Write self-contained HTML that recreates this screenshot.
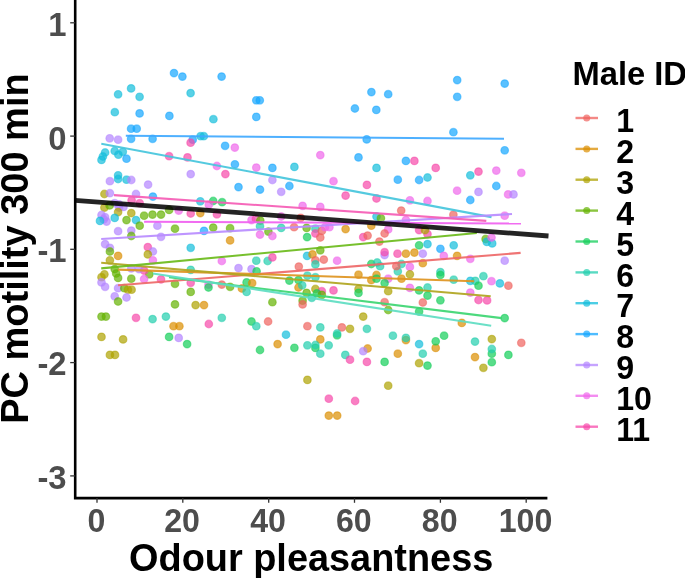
<!DOCTYPE html><html><head><meta charset="utf-8"><title>plot</title><style>html,body{margin:0;padding:0;background:#fff}svg{display:block}text{font-family:"Liberation Sans",sans-serif;font-weight:bold}</style></head><body>
<svg width="685" height="578" viewBox="0 0 685 578">
<rect width="685" height="578" fill="#fff"/>
<g fill-opacity="0.7" stroke-opacity="0.5" stroke-width="1.2">
<circle cx="174.0" cy="73.1" r="3.8" fill="#14A6FF" stroke="#14A6FF"/>
<circle cx="182.4" cy="76.6" r="3.8" fill="#14A6FF" stroke="#14A6FF"/>
<circle cx="131.1" cy="88.4" r="3.8" fill="#12BEDC" stroke="#12BEDC"/>
<circle cx="118.1" cy="94.3" r="3.8" fill="#12BEDC" stroke="#12BEDC"/>
<circle cx="139.6" cy="96.8" r="3.8" fill="#12BEDC" stroke="#12BEDC"/>
<circle cx="190.6" cy="93.1" r="3.8" fill="#12BEDC" stroke="#12BEDC"/>
<circle cx="114.8" cy="112.2" r="3.8" fill="#12BEDC" stroke="#12BEDC"/>
<circle cx="139.6" cy="113.4" r="3.8" fill="#14A6FF" stroke="#14A6FF"/>
<circle cx="169.4" cy="115.9" r="3.8" fill="#14A6FF" stroke="#14A6FF"/>
<circle cx="131.1" cy="128.7" r="3.8" fill="#14A6FF" stroke="#14A6FF"/>
<circle cx="136.7" cy="128.7" r="3.8" fill="#14A6FF" stroke="#14A6FF"/>
<circle cx="109.7" cy="138.3" r="3.8" fill="#B385FF" stroke="#B385FF"/>
<circle cx="118.1" cy="139.7" r="3.8" fill="#B385FF" stroke="#B385FF"/>
<circle cx="131.1" cy="138.8" r="3.8" fill="#14A6FF" stroke="#14A6FF"/>
<circle cx="152.6" cy="138.8" r="3.8" fill="#14A6FF" stroke="#14A6FF"/>
<circle cx="192.7" cy="139.7" r="3.8" fill="#14A6FF" stroke="#14A6FF"/>
<circle cx="190.6" cy="142.7" r="3.8" fill="#F748AA" stroke="#F748AA"/>
<circle cx="221.6" cy="76.6" r="3.8" fill="#14A6FF" stroke="#14A6FF"/>
<circle cx="256.3" cy="100.3" r="3.8" fill="#14A6FF" stroke="#14A6FF"/>
<circle cx="259.8" cy="100.3" r="3.8" fill="#14A6FF" stroke="#14A6FF"/>
<circle cx="213.4" cy="119.2" r="3.8" fill="#12BEDC" stroke="#12BEDC"/>
<circle cx="256.3" cy="116.9" r="3.8" fill="#14A6FF" stroke="#14A6FF"/>
<circle cx="200.6" cy="136.2" r="3.8" fill="#12BEDC" stroke="#12BEDC"/>
<circle cx="203.8" cy="136.2" r="3.8" fill="#12BEDC" stroke="#12BEDC"/>
<circle cx="225.1" cy="145.8" r="3.8" fill="#14A6FF" stroke="#14A6FF"/>
<circle cx="234.8" cy="147.6" r="3.8" fill="#EF67EB" stroke="#EF67EB"/>
<circle cx="371.4" cy="92.1" r="3.8" fill="#14A6FF" stroke="#14A6FF"/>
<circle cx="388.2" cy="94.2" r="3.8" fill="#14A6FF" stroke="#14A6FF"/>
<circle cx="354.9" cy="108.5" r="3.8" fill="#14A6FF" stroke="#14A6FF"/>
<circle cx="376.3" cy="109.9" r="3.8" fill="#14A6FF" stroke="#14A6FF"/>
<circle cx="366.7" cy="139.4" r="3.8" fill="#14A6FF" stroke="#14A6FF"/>
<circle cx="457.2" cy="80.1" r="3.8" fill="#14A6FF" stroke="#14A6FF"/>
<circle cx="504.7" cy="83.6" r="3.8" fill="#14A6FF" stroke="#14A6FF"/>
<circle cx="457.2" cy="96.8" r="3.8" fill="#14A6FF" stroke="#14A6FF"/>
<circle cx="453.4" cy="132.2" r="3.8" fill="#14A6FF" stroke="#14A6FF"/>
<circle cx="105.1" cy="152.5" r="3.8" fill="#12BEDC" stroke="#12BEDC"/>
<circle cx="102.9" cy="156.5" r="3.8" fill="#12BEDC" stroke="#12BEDC"/>
<circle cx="101.5" cy="159.9" r="3.8" fill="#12BEDC" stroke="#12BEDC"/>
<circle cx="114.7" cy="151.0" r="3.8" fill="#12BEDC" stroke="#12BEDC"/>
<circle cx="118.4" cy="154.7" r="3.8" fill="#12BEDC" stroke="#12BEDC"/>
<circle cx="122.8" cy="151.8" r="3.8" fill="#12BEDC" stroke="#12BEDC"/>
<circle cx="126.5" cy="158.7" r="3.8" fill="#14A6FF" stroke="#14A6FF"/>
<circle cx="169.1" cy="156.2" r="3.8" fill="#F748AA" stroke="#F748AA"/>
<circle cx="118.1" cy="175.3" r="3.8" fill="#12BEDC" stroke="#12BEDC"/>
<circle cx="118.1" cy="179.0" r="3.8" fill="#12BEDC" stroke="#12BEDC"/>
<circle cx="109.9" cy="181.2" r="3.8" fill="#B385FF" stroke="#B385FF"/>
<circle cx="126.5" cy="179.7" r="3.8" fill="#12BEDC" stroke="#12BEDC"/>
<circle cx="131.3" cy="180.0" r="3.8" fill="#B385FF" stroke="#B385FF"/>
<circle cx="148.1" cy="184.6" r="3.8" fill="#B385FF" stroke="#B385FF"/>
<circle cx="104.4" cy="194.0" r="3.8" fill="#AEA200" stroke="#AEA200"/>
<circle cx="109.9" cy="193.2" r="3.8" fill="#B385FF" stroke="#B385FF"/>
<circle cx="136.0" cy="194.0" r="3.8" fill="#B385FF" stroke="#B385FF"/>
<circle cx="152.9" cy="196.6" r="3.8" fill="#14A6FF" stroke="#14A6FF"/>
<circle cx="131.6" cy="200.3" r="3.8" fill="#F748AA" stroke="#F748AA"/>
<circle cx="139.7" cy="203.2" r="3.8" fill="#F748AA" stroke="#F748AA"/>
<circle cx="114.7" cy="203.2" r="3.8" fill="#B385FF" stroke="#B385FF"/>
<circle cx="119.1" cy="204.3" r="3.8" fill="#B385FF" stroke="#B385FF"/>
<circle cx="104.4" cy="207.6" r="3.8" fill="#AEA200" stroke="#AEA200"/>
<circle cx="109.6" cy="205.4" r="3.8" fill="#64B200" stroke="#64B200"/>
<circle cx="119.1" cy="207.6" r="3.8" fill="#B385FF" stroke="#B385FF"/>
<circle cx="123.5" cy="206.9" r="3.8" fill="#B385FF" stroke="#B385FF"/>
<circle cx="118.1" cy="212.1" r="3.8" fill="#AEA200" stroke="#AEA200"/>
<circle cx="131.3" cy="213.1" r="3.8" fill="#AEA200" stroke="#AEA200"/>
<circle cx="144.1" cy="215.7" r="3.8" fill="#64B200" stroke="#64B200"/>
<circle cx="152.5" cy="214.6" r="3.8" fill="#64B200" stroke="#64B200"/>
<circle cx="161.0" cy="214.6" r="3.8" fill="#64B200" stroke="#64B200"/>
<circle cx="169.1" cy="209.9" r="3.8" fill="#64B200" stroke="#64B200"/>
<circle cx="101.5" cy="215.0" r="3.8" fill="#B385FF" stroke="#B385FF"/>
<circle cx="105.1" cy="217.2" r="3.8" fill="#B385FF" stroke="#B385FF"/>
<circle cx="106.6" cy="221.6" r="3.8" fill="#B385FF" stroke="#B385FF"/>
<circle cx="103.7" cy="219.4" r="3.8" fill="#B385FF" stroke="#B385FF"/>
<circle cx="114.7" cy="217.9" r="3.8" fill="#12BEDC" stroke="#12BEDC"/>
<circle cx="100.0" cy="220.9" r="3.8" fill="#12BEDC" stroke="#12BEDC"/>
<circle cx="126.5" cy="220.1" r="3.8" fill="#64B200" stroke="#64B200"/>
<circle cx="136.0" cy="220.1" r="3.8" fill="#12BEDC" stroke="#12BEDC"/>
<circle cx="187.5" cy="157.4" r="3.8" fill="#F748AA" stroke="#F748AA"/>
<circle cx="216.9" cy="166.0" r="3.8" fill="#EF67EB" stroke="#EF67EB"/>
<circle cx="234.9" cy="164.3" r="3.8" fill="#14A6FF" stroke="#14A6FF"/>
<circle cx="256.3" cy="167.6" r="3.8" fill="#EF67EB" stroke="#EF67EB"/>
<circle cx="272.4" cy="167.9" r="3.8" fill="#14A6FF" stroke="#14A6FF"/>
<circle cx="190.7" cy="174.1" r="3.8" fill="#B385FF" stroke="#B385FF"/>
<circle cx="225.4" cy="174.1" r="3.8" fill="#F748AA" stroke="#F748AA"/>
<circle cx="272.4" cy="180.0" r="3.8" fill="#B385FF" stroke="#B385FF"/>
<circle cx="238.5" cy="187.1" r="3.8" fill="#14A6FF" stroke="#14A6FF"/>
<circle cx="260.0" cy="189.6" r="3.8" fill="#14A6FF" stroke="#14A6FF"/>
<circle cx="200.3" cy="201.3" r="3.8" fill="#12BEDC" stroke="#12BEDC"/>
<circle cx="213.2" cy="201.0" r="3.8" fill="#12CE58" stroke="#12CE58"/>
<circle cx="222.1" cy="202.2" r="3.8" fill="#12CE58" stroke="#12CE58"/>
<circle cx="208.8" cy="204.7" r="3.8" fill="#EF67EB" stroke="#EF67EB"/>
<circle cx="178.7" cy="210.6" r="3.8" fill="#EF67EB" stroke="#EF67EB"/>
<circle cx="190.7" cy="213.5" r="3.8" fill="#F748AA" stroke="#F748AA"/>
<circle cx="200.3" cy="213.1" r="3.8" fill="#DB8E00" stroke="#DB8E00"/>
<circle cx="216.9" cy="214.3" r="3.8" fill="#F748AA" stroke="#F748AA"/>
<circle cx="251.5" cy="220.1" r="3.8" fill="#EF67EB" stroke="#EF67EB"/>
<circle cx="255.9" cy="218.7" r="3.8" fill="#F748AA" stroke="#F748AA"/>
<circle cx="260.3" cy="220.6" r="3.8" fill="#64B200" stroke="#64B200"/>
<circle cx="320.3" cy="155.1" r="3.8" fill="#EF67EB" stroke="#EF67EB"/>
<circle cx="358.5" cy="157.4" r="3.8" fill="#14A6FF" stroke="#14A6FF"/>
<circle cx="294.4" cy="166.9" r="3.8" fill="#12BEDC" stroke="#12BEDC"/>
<circle cx="333.5" cy="181.2" r="3.8" fill="#EF67EB" stroke="#EF67EB"/>
<circle cx="289.4" cy="186.0" r="3.8" fill="#14A6FF" stroke="#14A6FF"/>
<circle cx="281.2" cy="191.8" r="3.8" fill="#B385FF" stroke="#B385FF"/>
<circle cx="366.9" cy="184.9" r="3.8" fill="#F748AA" stroke="#F748AA"/>
<circle cx="345.6" cy="195.6" r="3.8" fill="#F748AA" stroke="#F748AA"/>
<circle cx="302.6" cy="205.9" r="3.8" fill="#EF67EB" stroke="#EF67EB"/>
<circle cx="320.3" cy="206.9" r="3.8" fill="#EF67EB" stroke="#EF67EB"/>
<circle cx="281.2" cy="216.5" r="3.8" fill="#EF67EB" stroke="#EF67EB"/>
<circle cx="300.7" cy="217.9" r="3.8" fill="#F0625E" stroke="#F0625E"/>
<circle cx="405.9" cy="160.9" r="3.8" fill="#14A6FF" stroke="#14A6FF"/>
<circle cx="414.4" cy="160.9" r="3.8" fill="#F748AA" stroke="#F748AA"/>
<circle cx="376.5" cy="167.9" r="3.8" fill="#12BEDC" stroke="#12BEDC"/>
<circle cx="435.7" cy="167.9" r="3.8" fill="#F748AA" stroke="#F748AA"/>
<circle cx="470.3" cy="175.3" r="3.8" fill="#12BEDC" stroke="#12BEDC"/>
<circle cx="427.5" cy="177.5" r="3.8" fill="#12BEDC" stroke="#12BEDC"/>
<circle cx="397.8" cy="179.7" r="3.8" fill="#14A6FF" stroke="#14A6FF"/>
<circle cx="419.1" cy="180.0" r="3.8" fill="#14A6FF" stroke="#14A6FF"/>
<circle cx="457.1" cy="190.7" r="3.8" fill="#EF67EB" stroke="#EF67EB"/>
<circle cx="376.5" cy="198.5" r="3.8" fill="#F748AA" stroke="#F748AA"/>
<circle cx="409.9" cy="200.3" r="3.8" fill="#EF67EB" stroke="#EF67EB"/>
<circle cx="427.5" cy="201.0" r="3.8" fill="#EF67EB" stroke="#EF67EB"/>
<circle cx="470.3" cy="200.0" r="3.8" fill="#14A6FF" stroke="#14A6FF"/>
<circle cx="401.2" cy="210.6" r="3.8" fill="#F0625E" stroke="#F0625E"/>
<circle cx="453.4" cy="214.7" r="3.8" fill="#F0625E" stroke="#F0625E"/>
<circle cx="376.5" cy="216.5" r="3.8" fill="#12BEDC" stroke="#12BEDC"/>
<circle cx="380.9" cy="218.2" r="3.8" fill="#64B200" stroke="#64B200"/>
<circle cx="405.9" cy="220.1" r="3.8" fill="#EF67EB" stroke="#EF67EB"/>
<circle cx="504.7" cy="150.3" r="3.8" fill="#14A6FF" stroke="#14A6FF"/>
<circle cx="478.5" cy="171.6" r="3.8" fill="#F748AA" stroke="#F748AA"/>
<circle cx="496.3" cy="170.6" r="3.8" fill="#EF67EB" stroke="#EF67EB"/>
<circle cx="521.3" cy="172.8" r="3.8" fill="#EF67EB" stroke="#EF67EB"/>
<circle cx="496.3" cy="186.0" r="3.8" fill="#14A6FF" stroke="#14A6FF"/>
<circle cx="478.5" cy="191.9" r="3.8" fill="#B385FF" stroke="#B385FF"/>
<circle cx="508.1" cy="194.4" r="3.8" fill="#EF67EB" stroke="#EF67EB"/>
<circle cx="513.5" cy="194.4" r="3.8" fill="#B385FF" stroke="#B385FF"/>
<circle cx="504.7" cy="215.7" r="3.8" fill="#EF67EB" stroke="#EF67EB"/>
<circle cx="118.1" cy="231.2" r="3.8" fill="#B385FF" stroke="#B385FF"/>
<circle cx="131.3" cy="230.6" r="3.8" fill="#B385FF" stroke="#B385FF"/>
<circle cx="139.7" cy="225.7" r="3.8" fill="#64B200" stroke="#64B200"/>
<circle cx="157.4" cy="225.7" r="3.8" fill="#B385FF" stroke="#B385FF"/>
<circle cx="131.3" cy="236.0" r="3.8" fill="#64B200" stroke="#64B200"/>
<circle cx="161.0" cy="236.8" r="3.8" fill="#B385FF" stroke="#B385FF"/>
<circle cx="105.1" cy="244.1" r="3.8" fill="#B385FF" stroke="#B385FF"/>
<circle cx="109.9" cy="247.8" r="3.8" fill="#B385FF" stroke="#B385FF"/>
<circle cx="109.9" cy="251.5" r="3.8" fill="#64B200" stroke="#64B200"/>
<circle cx="118.1" cy="255.9" r="3.8" fill="#DB8E00" stroke="#DB8E00"/>
<circle cx="147.8" cy="247.1" r="3.8" fill="#F748AA" stroke="#F748AA"/>
<circle cx="152.9" cy="251.5" r="3.8" fill="#B385FF" stroke="#B385FF"/>
<circle cx="147.8" cy="254.4" r="3.8" fill="#AEA200" stroke="#AEA200"/>
<circle cx="152.9" cy="260.3" r="3.8" fill="#EF67EB" stroke="#EF67EB"/>
<circle cx="109.9" cy="260.3" r="3.8" fill="#AEA200" stroke="#AEA200"/>
<circle cx="104.4" cy="274.3" r="3.8" fill="#AEA200" stroke="#AEA200"/>
<circle cx="101.5" cy="277.2" r="3.8" fill="#AEA200" stroke="#AEA200"/>
<circle cx="114.7" cy="269.1" r="3.8" fill="#64B200" stroke="#64B200"/>
<circle cx="116.2" cy="273.5" r="3.8" fill="#64B200" stroke="#64B200"/>
<circle cx="118.1" cy="277.9" r="3.8" fill="#64B200" stroke="#64B200"/>
<circle cx="131.3" cy="278.7" r="3.8" fill="#64B200" stroke="#64B200"/>
<circle cx="149.3" cy="274.3" r="3.8" fill="#64B200" stroke="#64B200"/>
<circle cx="144.1" cy="279.1" r="3.8" fill="#EF67EB" stroke="#EF67EB"/>
<circle cx="161.0" cy="279.4" r="3.8" fill="#F748AA" stroke="#F748AA"/>
<circle cx="144.1" cy="270.6" r="3.8" fill="#F748AA" stroke="#F748AA"/>
<circle cx="139.0" cy="269.1" r="3.8" fill="#B385FF" stroke="#B385FF"/>
<circle cx="131.3" cy="268.4" r="3.8" fill="#B385FF" stroke="#B385FF"/>
<circle cx="101.5" cy="282.4" r="3.8" fill="#B385FF" stroke="#B385FF"/>
<circle cx="105.1" cy="286.8" r="3.8" fill="#B385FF" stroke="#B385FF"/>
<circle cx="118.1" cy="288.2" r="3.8" fill="#B385FF" stroke="#B385FF"/>
<circle cx="124.3" cy="288.2" r="3.8" fill="#64B200" stroke="#64B200"/>
<circle cx="127.9" cy="289.7" r="3.8" fill="#AEA200" stroke="#AEA200"/>
<circle cx="131.6" cy="289.7" r="3.8" fill="#AEA200" stroke="#AEA200"/>
<circle cx="114.7" cy="296.3" r="3.8" fill="#B385FF" stroke="#B385FF"/>
<circle cx="126.5" cy="297.5" r="3.8" fill="#B385FF" stroke="#B385FF"/>
<circle cx="118.1" cy="301.5" r="3.8" fill="#64B200" stroke="#64B200"/>
<circle cx="175.0" cy="228.7" r="3.8" fill="#64B200" stroke="#64B200"/>
<circle cx="204.0" cy="230.9" r="3.8" fill="#14A6FF" stroke="#14A6FF"/>
<circle cx="213.2" cy="227.6" r="3.8" fill="#64B200" stroke="#64B200"/>
<circle cx="230.1" cy="228.2" r="3.8" fill="#64B200" stroke="#64B200"/>
<circle cx="260.0" cy="226.2" r="3.8" fill="#22CEAE" stroke="#22CEAE"/>
<circle cx="268.4" cy="231.6" r="3.8" fill="#64B200" stroke="#64B200"/>
<circle cx="260.0" cy="234.6" r="3.8" fill="#EF67EB" stroke="#EF67EB"/>
<circle cx="272.4" cy="236.0" r="3.8" fill="#EF67EB" stroke="#EF67EB"/>
<circle cx="230.1" cy="240.4" r="3.8" fill="#DB8E00" stroke="#DB8E00"/>
<circle cx="190.7" cy="247.8" r="3.8" fill="#12BEDC" stroke="#12BEDC"/>
<circle cx="221.8" cy="261.0" r="3.8" fill="#EF67EB" stroke="#EF67EB"/>
<circle cx="256.3" cy="260.7" r="3.8" fill="#22CEAE" stroke="#22CEAE"/>
<circle cx="267.6" cy="261.0" r="3.8" fill="#22CEAE" stroke="#22CEAE"/>
<circle cx="272.4" cy="257.4" r="3.8" fill="#F748AA" stroke="#F748AA"/>
<circle cx="238.5" cy="268.1" r="3.8" fill="#B385FF" stroke="#B385FF"/>
<circle cx="251.5" cy="269.1" r="3.8" fill="#B385FF" stroke="#B385FF"/>
<circle cx="256.6" cy="271.3" r="3.8" fill="#12CE58" stroke="#12CE58"/>
<circle cx="190.7" cy="269.9" r="3.8" fill="#22CEAE" stroke="#22CEAE"/>
<circle cx="190.7" cy="282.8" r="3.8" fill="#F748AA" stroke="#F748AA"/>
<circle cx="208.5" cy="284.6" r="3.8" fill="#EF67EB" stroke="#EF67EB"/>
<circle cx="208.5" cy="287.5" r="3.8" fill="#12CE58" stroke="#12CE58"/>
<circle cx="221.8" cy="284.6" r="3.8" fill="#F0625E" stroke="#F0625E"/>
<circle cx="230.1" cy="286.8" r="3.8" fill="#64B200" stroke="#64B200"/>
<circle cx="246.6" cy="282.4" r="3.8" fill="#12CE58" stroke="#12CE58"/>
<circle cx="252.2" cy="283.1" r="3.8" fill="#DB8E00" stroke="#DB8E00"/>
<circle cx="241.9" cy="288.5" r="3.8" fill="#DB8E00" stroke="#DB8E00"/>
<circle cx="246.6" cy="291.9" r="3.8" fill="#22CEAE" stroke="#22CEAE"/>
<circle cx="190.7" cy="291.9" r="3.8" fill="#64B200" stroke="#64B200"/>
<circle cx="175.0" cy="283.8" r="3.8" fill="#64B200" stroke="#64B200"/>
<circle cx="175.0" cy="304.4" r="3.8" fill="#64B200" stroke="#64B200"/>
<circle cx="195.6" cy="305.1" r="3.8" fill="#AEA200" stroke="#AEA200"/>
<circle cx="204.0" cy="305.1" r="3.8" fill="#DB8E00" stroke="#DB8E00"/>
<circle cx="272.4" cy="302.2" r="3.8" fill="#64B200" stroke="#64B200"/>
<circle cx="281.2" cy="227.9" r="3.8" fill="#22CEAE" stroke="#22CEAE"/>
<circle cx="294.1" cy="227.2" r="3.8" fill="#F0625E" stroke="#F0625E"/>
<circle cx="306.6" cy="227.9" r="3.8" fill="#64B200" stroke="#64B200"/>
<circle cx="315.4" cy="228.7" r="3.8" fill="#22CEAE" stroke="#22CEAE"/>
<circle cx="315.4" cy="233.5" r="3.8" fill="#F748AA" stroke="#F748AA"/>
<circle cx="321.8" cy="230.9" r="3.8" fill="#F0625E" stroke="#F0625E"/>
<circle cx="320.3" cy="237.5" r="3.8" fill="#F0625E" stroke="#F0625E"/>
<circle cx="325.0" cy="227.2" r="3.8" fill="#EF67EB" stroke="#EF67EB"/>
<circle cx="329.4" cy="227.2" r="3.8" fill="#EF67EB" stroke="#EF67EB"/>
<circle cx="345.6" cy="229.1" r="3.8" fill="#DB8E00" stroke="#DB8E00"/>
<circle cx="371.3" cy="225.7" r="3.8" fill="#DB8E00" stroke="#DB8E00"/>
<circle cx="307.1" cy="237.1" r="3.8" fill="#12CE58" stroke="#12CE58"/>
<circle cx="363.2" cy="237.1" r="3.8" fill="#F748AA" stroke="#F748AA"/>
<circle cx="367.6" cy="235.6" r="3.8" fill="#F0625E" stroke="#F0625E"/>
<circle cx="320.3" cy="250.3" r="3.8" fill="#64B200" stroke="#64B200"/>
<circle cx="307.1" cy="255.9" r="3.8" fill="#12BEDC" stroke="#12BEDC"/>
<circle cx="312.5" cy="254.4" r="3.8" fill="#DB8E00" stroke="#DB8E00"/>
<circle cx="315.4" cy="260.3" r="3.8" fill="#F0625E" stroke="#F0625E"/>
<circle cx="323.8" cy="259.6" r="3.8" fill="#F0625E" stroke="#F0625E"/>
<circle cx="315.4" cy="264.4" r="3.8" fill="#22CEAE" stroke="#22CEAE"/>
<circle cx="337.1" cy="260.7" r="3.8" fill="#EF67EB" stroke="#EF67EB"/>
<circle cx="298.8" cy="266.6" r="3.8" fill="#F0625E" stroke="#F0625E"/>
<circle cx="371.3" cy="264.0" r="3.8" fill="#12CE58" stroke="#12CE58"/>
<circle cx="358.5" cy="274.7" r="3.8" fill="#DB8E00" stroke="#DB8E00"/>
<circle cx="371.3" cy="280.1" r="3.8" fill="#DB8E00" stroke="#DB8E00"/>
<circle cx="307.4" cy="275.7" r="3.8" fill="#22CEAE" stroke="#22CEAE"/>
<circle cx="315.4" cy="277.2" r="3.8" fill="#22CEAE" stroke="#22CEAE"/>
<circle cx="289.4" cy="280.6" r="3.8" fill="#12CE58" stroke="#12CE58"/>
<circle cx="298.5" cy="280.1" r="3.8" fill="#12CE58" stroke="#12CE58"/>
<circle cx="298.5" cy="287.5" r="3.8" fill="#DB8E00" stroke="#DB8E00"/>
<circle cx="302.2" cy="285.3" r="3.8" fill="#22CEAE" stroke="#22CEAE"/>
<circle cx="315.4" cy="289.0" r="3.8" fill="#AEA200" stroke="#AEA200"/>
<circle cx="321.8" cy="291.2" r="3.8" fill="#F748AA" stroke="#F748AA"/>
<circle cx="333.5" cy="290.4" r="3.8" fill="#F748AA" stroke="#F748AA"/>
<circle cx="358.5" cy="289.0" r="3.8" fill="#AEA200" stroke="#AEA200"/>
<circle cx="358.5" cy="292.9" r="3.8" fill="#12CE58" stroke="#12CE58"/>
<circle cx="306.6" cy="292.9" r="3.8" fill="#64B200" stroke="#64B200"/>
<circle cx="316.9" cy="293.4" r="3.8" fill="#12CE58" stroke="#12CE58"/>
<circle cx="321.8" cy="294.9" r="3.8" fill="#64B200" stroke="#64B200"/>
<circle cx="311.8" cy="297.8" r="3.8" fill="#22CEAE" stroke="#22CEAE"/>
<circle cx="302.6" cy="300.7" r="3.8" fill="#64B200" stroke="#64B200"/>
<circle cx="302.6" cy="304.4" r="3.8" fill="#F0625E" stroke="#F0625E"/>
<circle cx="388.2" cy="229.4" r="3.8" fill="#EF67EB" stroke="#EF67EB"/>
<circle cx="384.6" cy="233.5" r="3.8" fill="#F0625E" stroke="#F0625E"/>
<circle cx="379.4" cy="241.6" r="3.8" fill="#F0625E" stroke="#F0625E"/>
<circle cx="419.1" cy="230.1" r="3.8" fill="#F748AA" stroke="#F748AA"/>
<circle cx="427.5" cy="234.1" r="3.8" fill="#F748AA" stroke="#F748AA"/>
<circle cx="425.0" cy="230.1" r="3.8" fill="#AEA200" stroke="#AEA200"/>
<circle cx="419.1" cy="245.3" r="3.8" fill="#12CE58" stroke="#12CE58"/>
<circle cx="427.5" cy="244.1" r="3.8" fill="#12BEDC" stroke="#12BEDC"/>
<circle cx="440.4" cy="248.8" r="3.8" fill="#14A6FF" stroke="#14A6FF"/>
<circle cx="453.7" cy="245.3" r="3.8" fill="#12BEDC" stroke="#12BEDC"/>
<circle cx="384.6" cy="255.1" r="3.8" fill="#B385FF" stroke="#B385FF"/>
<circle cx="384.6" cy="252.2" r="3.8" fill="#F748AA" stroke="#F748AA"/>
<circle cx="397.5" cy="253.7" r="3.8" fill="#F748AA" stroke="#F748AA"/>
<circle cx="405.9" cy="253.7" r="3.8" fill="#DB8E00" stroke="#DB8E00"/>
<circle cx="414.4" cy="252.6" r="3.8" fill="#DB8E00" stroke="#DB8E00"/>
<circle cx="422.8" cy="253.7" r="3.8" fill="#B385FF" stroke="#B385FF"/>
<circle cx="443.8" cy="255.9" r="3.8" fill="#EF67EB" stroke="#EF67EB"/>
<circle cx="457.1" cy="255.9" r="3.8" fill="#DB8E00" stroke="#DB8E00"/>
<circle cx="470.3" cy="258.8" r="3.8" fill="#EF67EB" stroke="#EF67EB"/>
<circle cx="422.8" cy="263.2" r="3.8" fill="#DB8E00" stroke="#DB8E00"/>
<circle cx="377.2" cy="262.5" r="3.8" fill="#22CEAE" stroke="#22CEAE"/>
<circle cx="380.1" cy="266.2" r="3.8" fill="#22CEAE" stroke="#22CEAE"/>
<circle cx="401.5" cy="264.0" r="3.8" fill="#22CEAE" stroke="#22CEAE"/>
<circle cx="397.8" cy="271.3" r="3.8" fill="#22CEAE" stroke="#22CEAE"/>
<circle cx="396.3" cy="266.2" r="3.8" fill="#F0625E" stroke="#F0625E"/>
<circle cx="409.9" cy="266.9" r="3.8" fill="#EF67EB" stroke="#EF67EB"/>
<circle cx="409.9" cy="274.3" r="3.8" fill="#AEA200" stroke="#AEA200"/>
<circle cx="440.4" cy="272.1" r="3.8" fill="#22CEAE" stroke="#22CEAE"/>
<circle cx="440.4" cy="275.0" r="3.8" fill="#12CE58" stroke="#12CE58"/>
<circle cx="376.5" cy="275.0" r="3.8" fill="#DB8E00" stroke="#DB8E00"/>
<circle cx="376.5" cy="278.7" r="3.8" fill="#12CE58" stroke="#12CE58"/>
<circle cx="388.2" cy="278.7" r="3.8" fill="#EF67EB" stroke="#EF67EB"/>
<circle cx="401.5" cy="278.7" r="3.8" fill="#DB8E00" stroke="#DB8E00"/>
<circle cx="453.7" cy="279.7" r="3.8" fill="#22CEAE" stroke="#22CEAE"/>
<circle cx="470.3" cy="280.9" r="3.8" fill="#12BEDC" stroke="#12BEDC"/>
<circle cx="384.6" cy="283.1" r="3.8" fill="#12CE58" stroke="#12CE58"/>
<circle cx="388.2" cy="291.2" r="3.8" fill="#AEA200" stroke="#AEA200"/>
<circle cx="409.9" cy="287.9" r="3.8" fill="#EF67EB" stroke="#EF67EB"/>
<circle cx="427.5" cy="287.5" r="3.8" fill="#22CEAE" stroke="#22CEAE"/>
<circle cx="419.1" cy="290.4" r="3.8" fill="#12CE58" stroke="#12CE58"/>
<circle cx="427.5" cy="295.6" r="3.8" fill="#12CE58" stroke="#12CE58"/>
<circle cx="470.3" cy="292.6" r="3.8" fill="#EF67EB" stroke="#EF67EB"/>
<circle cx="440.4" cy="300.3" r="3.8" fill="#12CE58" stroke="#12CE58"/>
<circle cx="422.8" cy="302.5" r="3.8" fill="#F0625E" stroke="#F0625E"/>
<circle cx="384.6" cy="302.2" r="3.8" fill="#F0625E" stroke="#F0625E"/>
<circle cx="388.2" cy="310.0" r="3.8" fill="#64B200" stroke="#64B200"/>
<circle cx="485.6" cy="239.0" r="3.8" fill="#64B200" stroke="#64B200"/>
<circle cx="486.8" cy="241.9" r="3.8" fill="#12BEDC" stroke="#12BEDC"/>
<circle cx="492.2" cy="243.4" r="3.8" fill="#12BEDC" stroke="#12BEDC"/>
<circle cx="491.5" cy="237.5" r="3.8" fill="#EF67EB" stroke="#EF67EB"/>
<circle cx="504.7" cy="260.7" r="3.8" fill="#B385FF" stroke="#B385FF"/>
<circle cx="483.4" cy="276.2" r="3.8" fill="#22CEAE" stroke="#22CEAE"/>
<circle cx="475.3" cy="280.9" r="3.8" fill="#22CEAE" stroke="#22CEAE"/>
<circle cx="478.5" cy="285.7" r="3.8" fill="#12CE58" stroke="#12CE58"/>
<circle cx="491.5" cy="281.2" r="3.8" fill="#EF67EB" stroke="#EF67EB"/>
<circle cx="499.9" cy="283.4" r="3.8" fill="#12BEDC" stroke="#12BEDC"/>
<circle cx="508.4" cy="285.7" r="3.8" fill="#F0625E" stroke="#F0625E"/>
<circle cx="478.5" cy="300.0" r="3.8" fill="#F748AA" stroke="#F748AA"/>
<circle cx="487.1" cy="300.4" r="3.8" fill="#F748AA" stroke="#F748AA"/>
<circle cx="101.5" cy="316.6" r="3.8" fill="#64B200" stroke="#64B200"/>
<circle cx="105.9" cy="316.6" r="3.8" fill="#64B200" stroke="#64B200"/>
<circle cx="136.0" cy="317.8" r="3.8" fill="#F748AA" stroke="#F748AA"/>
<circle cx="152.6" cy="319.1" r="3.8" fill="#22CEAE" stroke="#22CEAE"/>
<circle cx="165.9" cy="316.6" r="3.8" fill="#22CEAE" stroke="#22CEAE"/>
<circle cx="173.5" cy="326.2" r="3.8" fill="#DB8E00" stroke="#DB8E00"/>
<circle cx="169.1" cy="336.9" r="3.8" fill="#12CE58" stroke="#12CE58"/>
<circle cx="101.5" cy="336.9" r="3.8" fill="#AEA200" stroke="#AEA200"/>
<circle cx="123.1" cy="339.4" r="3.8" fill="#AEA200" stroke="#AEA200"/>
<circle cx="109.9" cy="354.9" r="3.8" fill="#AEA200" stroke="#AEA200"/>
<circle cx="115.0" cy="354.9" r="3.8" fill="#AEA200" stroke="#AEA200"/>
<circle cx="179.4" cy="326.2" r="3.8" fill="#DB8E00" stroke="#DB8E00"/>
<circle cx="178.7" cy="337.9" r="3.8" fill="#B385FF" stroke="#B385FF"/>
<circle cx="187.1" cy="344.1" r="3.8" fill="#12CE58" stroke="#12CE58"/>
<circle cx="208.8" cy="324.0" r="3.8" fill="#F748AA" stroke="#F748AA"/>
<circle cx="221.8" cy="317.8" r="3.8" fill="#22CEAE" stroke="#22CEAE"/>
<circle cx="251.5" cy="321.5" r="3.8" fill="#12CE58" stroke="#12CE58"/>
<circle cx="256.3" cy="326.2" r="3.8" fill="#22CEAE" stroke="#22CEAE"/>
<circle cx="268.1" cy="321.5" r="3.8" fill="#F0625E" stroke="#F0625E"/>
<circle cx="260.0" cy="350.0" r="3.8" fill="#12CE58" stroke="#12CE58"/>
<circle cx="363.2" cy="316.6" r="3.8" fill="#AEA200" stroke="#AEA200"/>
<circle cx="307.4" cy="326.2" r="3.8" fill="#F0625E" stroke="#F0625E"/>
<circle cx="320.3" cy="327.4" r="3.8" fill="#22CEAE" stroke="#22CEAE"/>
<circle cx="341.9" cy="327.4" r="3.8" fill="#F0625E" stroke="#F0625E"/>
<circle cx="350.0" cy="328.8" r="3.8" fill="#AEA200" stroke="#AEA200"/>
<circle cx="366.9" cy="328.8" r="3.8" fill="#22CEAE" stroke="#22CEAE"/>
<circle cx="286.0" cy="334.7" r="3.8" fill="#12BEDC" stroke="#12BEDC"/>
<circle cx="337.1" cy="335.3" r="3.8" fill="#12CE58" stroke="#12CE58"/>
<circle cx="337.1" cy="333.5" r="3.8" fill="#22CEAE" stroke="#22CEAE"/>
<circle cx="320.3" cy="339.4" r="3.8" fill="#DB8E00" stroke="#DB8E00"/>
<circle cx="277.6" cy="344.1" r="3.8" fill="#DB8E00" stroke="#DB8E00"/>
<circle cx="294.4" cy="347.8" r="3.8" fill="#12CE58" stroke="#12CE58"/>
<circle cx="307.4" cy="345.3" r="3.8" fill="#22CEAE" stroke="#22CEAE"/>
<circle cx="315.4" cy="347.9" r="3.8" fill="#12CE58" stroke="#12CE58"/>
<circle cx="315.4" cy="345.0" r="3.8" fill="#22CEAE" stroke="#22CEAE"/>
<circle cx="328.7" cy="345.3" r="3.8" fill="#22CEAE" stroke="#22CEAE"/>
<circle cx="320.3" cy="353.7" r="3.8" fill="#22CEAE" stroke="#22CEAE"/>
<circle cx="345.3" cy="354.9" r="3.8" fill="#22CEAE" stroke="#22CEAE"/>
<circle cx="350.0" cy="359.7" r="3.8" fill="#F748AA" stroke="#F748AA"/>
<circle cx="367.6" cy="348.5" r="3.8" fill="#DB8E00" stroke="#DB8E00"/>
<circle cx="363.2" cy="351.2" r="3.8" fill="#B385FF" stroke="#B385FF"/>
<circle cx="366.9" cy="361.9" r="3.8" fill="#F748AA" stroke="#F748AA"/>
<circle cx="307.4" cy="379.9" r="3.8" fill="#AEA200" stroke="#AEA200"/>
<circle cx="419.1" cy="311.5" r="3.8" fill="#12CE58" stroke="#12CE58"/>
<circle cx="461.8" cy="322.9" r="3.8" fill="#DB8E00" stroke="#DB8E00"/>
<circle cx="392.9" cy="335.7" r="3.8" fill="#22CEAE" stroke="#22CEAE"/>
<circle cx="405.9" cy="340.1" r="3.8" fill="#DB8E00" stroke="#DB8E00"/>
<circle cx="405.9" cy="337.9" r="3.8" fill="#22CEAE" stroke="#22CEAE"/>
<circle cx="444.1" cy="335.7" r="3.8" fill="#12CE58" stroke="#12CE58"/>
<circle cx="435.7" cy="347.9" r="3.8" fill="#DB8E00" stroke="#DB8E00"/>
<circle cx="435.7" cy="341.3" r="3.8" fill="#12CE58" stroke="#12CE58"/>
<circle cx="419.1" cy="344.1" r="3.8" fill="#12BEDC" stroke="#12BEDC"/>
<circle cx="397.8" cy="353.7" r="3.8" fill="#DB8E00" stroke="#DB8E00"/>
<circle cx="422.8" cy="353.7" r="3.8" fill="#22CEAE" stroke="#22CEAE"/>
<circle cx="384.6" cy="361.9" r="3.8" fill="#12CE58" stroke="#12CE58"/>
<circle cx="419.1" cy="363.2" r="3.8" fill="#AEA200" stroke="#AEA200"/>
<circle cx="427.5" cy="365.6" r="3.8" fill="#12CE58" stroke="#12CE58"/>
<circle cx="388.2" cy="385.7" r="3.8" fill="#AEA200" stroke="#AEA200"/>
<circle cx="504.7" cy="318.1" r="3.8" fill="#12CE58" stroke="#12CE58"/>
<circle cx="475.0" cy="341.6" r="3.8" fill="#22CEAE" stroke="#22CEAE"/>
<circle cx="491.8" cy="339.1" r="3.8" fill="#AEA200" stroke="#AEA200"/>
<circle cx="521.3" cy="342.8" r="3.8" fill="#F0625E" stroke="#F0625E"/>
<circle cx="491.8" cy="353.7" r="3.8" fill="#12CE58" stroke="#12CE58"/>
<circle cx="491.8" cy="349.0" r="3.8" fill="#22CEAE" stroke="#22CEAE"/>
<circle cx="508.4" cy="354.9" r="3.8" fill="#12CE58" stroke="#12CE58"/>
<circle cx="475.0" cy="357.1" r="3.8" fill="#DB8E00" stroke="#DB8E00"/>
<circle cx="491.8" cy="362.2" r="3.8" fill="#12CE58" stroke="#12CE58"/>
<circle cx="483.4" cy="367.8" r="3.8" fill="#AEA200" stroke="#AEA200"/>
<circle cx="328.8" cy="398.7" r="3.8" fill="#F748AA" stroke="#F748AA"/>
<circle cx="355.1" cy="401.0" r="3.8" fill="#F748AA" stroke="#F748AA"/>
<circle cx="328.8" cy="415.6" r="3.8" fill="#DB8E00" stroke="#DB8E00"/>
<circle cx="337.2" cy="415.6" r="3.8" fill="#DB8E00" stroke="#DB8E00"/>
</g>
<g stroke-width="2.1" fill="none" stroke-opacity="0.92">
<line x1="118.1" y1="285.3" x2="520.6" y2="252.9" stroke="#EE6868"/>
<line x1="118.1" y1="269.6" x2="474.1" y2="281.3" stroke="#DE9420"/>
<line x1="101.2" y1="262.8" x2="490.7" y2="296.3" stroke="#B0A520"/>
<line x1="101.2" y1="268.4" x2="476.8" y2="233" stroke="#6BBB1B"/>
<line x1="169" y1="277.3" x2="501.8" y2="318.1" stroke="#3DD672"/>
<line x1="152.9" y1="273.5" x2="491.2" y2="325.7" stroke="#5EDDC2"/>
<line x1="101.3" y1="143.7" x2="491.5" y2="217.1" stroke="#45C6DC"/>
<line x1="125.8" y1="135.7" x2="504" y2="138.7" stroke="#3FA9FF"/>
<line x1="101.2" y1="239" x2="512" y2="214" stroke="#B98CFF"/>
<line x1="144.1" y1="221.8" x2="521" y2="223.5" stroke="#F060F0"/>
<line x1="114" y1="195.1" x2="486.3" y2="220.9" stroke="#F55CB5"/>
</g>
<line x1="75" y1="200.3" x2="548.5" y2="236" stroke="#000" stroke-opacity="0.86" stroke-width="4.8"/>
<path d="M75.2 0V498.1H547.4" stroke="#000" stroke-width="2.6" fill="none"/>
<line x1="97.0" y1="498.1" x2="97.0" y2="502.8" stroke="#333" stroke-width="1.3"/>
<text transform="translate(96.3,532.1) scale(0.945,1)" font-size="34" fill="#4d4d4d" text-anchor="middle">0</text>
<line x1="182.8" y1="498.1" x2="182.8" y2="502.8" stroke="#333" stroke-width="1.3"/>
<text transform="translate(182.1,532.1) scale(0.945,1)" font-size="34" fill="#4d4d4d" text-anchor="middle">20</text>
<line x1="268.7" y1="498.1" x2="268.7" y2="502.8" stroke="#333" stroke-width="1.3"/>
<text transform="translate(268.0,532.1) scale(0.945,1)" font-size="34" fill="#4d4d4d" text-anchor="middle">40</text>
<line x1="354.5" y1="498.1" x2="354.5" y2="502.8" stroke="#333" stroke-width="1.3"/>
<text transform="translate(353.8,532.1) scale(0.945,1)" font-size="34" fill="#4d4d4d" text-anchor="middle">60</text>
<line x1="440.4" y1="498.1" x2="440.4" y2="502.8" stroke="#333" stroke-width="1.3"/>
<text transform="translate(439.7,532.1) scale(0.945,1)" font-size="34" fill="#4d4d4d" text-anchor="middle">80</text>
<line x1="526.2" y1="498.1" x2="526.2" y2="502.8" stroke="#333" stroke-width="1.3"/>
<text transform="translate(525.5,532.1) scale(0.945,1)" font-size="34" fill="#4d4d4d" text-anchor="middle">100</text>
<line x1="70.2" y1="22.8" x2="75.2" y2="22.8" stroke="#333" stroke-width="1.3"/>
<text transform="translate(66.6,35.5) scale(0.965,1)" font-size="34" fill="#4d4d4d" text-anchor="end">1</text>
<line x1="70.2" y1="136.1" x2="75.2" y2="136.1" stroke="#333" stroke-width="1.3"/>
<text transform="translate(66.6,149.6) scale(0.965,1)" font-size="34" fill="#4d4d4d" text-anchor="end">0</text>
<line x1="70.2" y1="249.3" x2="75.2" y2="249.3" stroke="#333" stroke-width="1.3"/>
<text transform="translate(66.6,262.4) scale(0.965,1)" font-size="34" fill="#4d4d4d" text-anchor="end">-1</text>
<line x1="70.2" y1="362.6" x2="75.2" y2="362.6" stroke="#333" stroke-width="1.3"/>
<text transform="translate(66.6,375.2) scale(0.965,1)" font-size="34" fill="#4d4d4d" text-anchor="end">-2</text>
<line x1="70.2" y1="475.9" x2="75.2" y2="475.9" stroke="#333" stroke-width="1.3"/>
<text transform="translate(66.6,488.5) scale(0.965,1)" font-size="34" fill="#4d4d4d" text-anchor="end">-3</text>
<text x="311.2" y="570.6" font-size="37.9" fill="#000" text-anchor="middle">Odour pleasantness</text>
<text transform="translate(28.3,248.6) rotate(-90)" font-size="38" fill="#000" text-anchor="middle">PC motility 300 min</text>
<text x="572.5" y="84.6" font-size="32.7" fill="#000">Male ID</text>
<line x1="575.5" y1="118.0" x2="598" y2="118.0" stroke="#F0625E" stroke-width="2.4" stroke-opacity="0.75"/>
<circle cx="586.7" cy="118.0" r="3.5" fill="#F0625E" fill-opacity="0.7"/>
<text transform="translate(616.2,132.2) scale(0.95,1)" font-size="33.8" fill="#000">1</text>
<line x1="575.5" y1="148.9" x2="598" y2="148.9" stroke="#DB8E00" stroke-width="2.4" stroke-opacity="0.75"/>
<circle cx="586.7" cy="148.9" r="3.5" fill="#DB8E00" fill-opacity="0.7"/>
<text transform="translate(616.2,163.1) scale(0.95,1)" font-size="33.8" fill="#000">2</text>
<line x1="575.5" y1="179.7" x2="598" y2="179.7" stroke="#AEA200" stroke-width="2.4" stroke-opacity="0.75"/>
<circle cx="586.7" cy="179.7" r="3.5" fill="#AEA200" fill-opacity="0.7"/>
<text transform="translate(616.2,193.9) scale(0.95,1)" font-size="33.8" fill="#000">3</text>
<line x1="575.5" y1="210.6" x2="598" y2="210.6" stroke="#64B200" stroke-width="2.4" stroke-opacity="0.75"/>
<circle cx="586.7" cy="210.6" r="3.5" fill="#64B200" fill-opacity="0.7"/>
<text transform="translate(616.2,224.8) scale(0.95,1)" font-size="33.8" fill="#000">4</text>
<line x1="575.5" y1="241.5" x2="598" y2="241.5" stroke="#12CE58" stroke-width="2.4" stroke-opacity="0.75"/>
<circle cx="586.7" cy="241.5" r="3.5" fill="#12CE58" fill-opacity="0.7"/>
<text transform="translate(616.2,255.7) scale(0.95,1)" font-size="33.8" fill="#000">5</text>
<line x1="575.5" y1="272.4" x2="598" y2="272.4" stroke="#22CEAE" stroke-width="2.4" stroke-opacity="0.75"/>
<circle cx="586.7" cy="272.4" r="3.5" fill="#22CEAE" fill-opacity="0.7"/>
<text transform="translate(616.2,286.6) scale(0.95,1)" font-size="33.8" fill="#000">6</text>
<line x1="575.5" y1="303.2" x2="598" y2="303.2" stroke="#12BEDC" stroke-width="2.4" stroke-opacity="0.75"/>
<circle cx="586.7" cy="303.2" r="3.5" fill="#12BEDC" fill-opacity="0.7"/>
<text transform="translate(616.2,317.4) scale(0.95,1)" font-size="33.8" fill="#000">7</text>
<line x1="575.5" y1="334.1" x2="598" y2="334.1" stroke="#14A6FF" stroke-width="2.4" stroke-opacity="0.75"/>
<circle cx="586.7" cy="334.1" r="3.5" fill="#14A6FF" fill-opacity="0.7"/>
<text transform="translate(616.2,348.3) scale(0.95,1)" font-size="33.8" fill="#000">8</text>
<line x1="575.5" y1="365.0" x2="598" y2="365.0" stroke="#B385FF" stroke-width="2.4" stroke-opacity="0.75"/>
<circle cx="586.7" cy="365.0" r="3.5" fill="#B385FF" fill-opacity="0.7"/>
<text transform="translate(616.2,379.2) scale(0.95,1)" font-size="33.8" fill="#000">9</text>
<line x1="575.5" y1="395.8" x2="598" y2="395.8" stroke="#EF67EB" stroke-width="2.4" stroke-opacity="0.75"/>
<circle cx="586.7" cy="395.8" r="3.5" fill="#EF67EB" fill-opacity="0.7"/>
<text transform="translate(616.2,410.0) scale(0.95,1)" font-size="33.8" fill="#000">10</text>
<line x1="575.5" y1="426.7" x2="598" y2="426.7" stroke="#F748AA" stroke-width="2.4" stroke-opacity="0.75"/>
<circle cx="586.7" cy="426.7" r="3.5" fill="#F748AA" fill-opacity="0.7"/>
<text transform="translate(616.2,440.9) scale(0.95,1)" font-size="33.8" fill="#000">11</text>
</svg></body></html>
